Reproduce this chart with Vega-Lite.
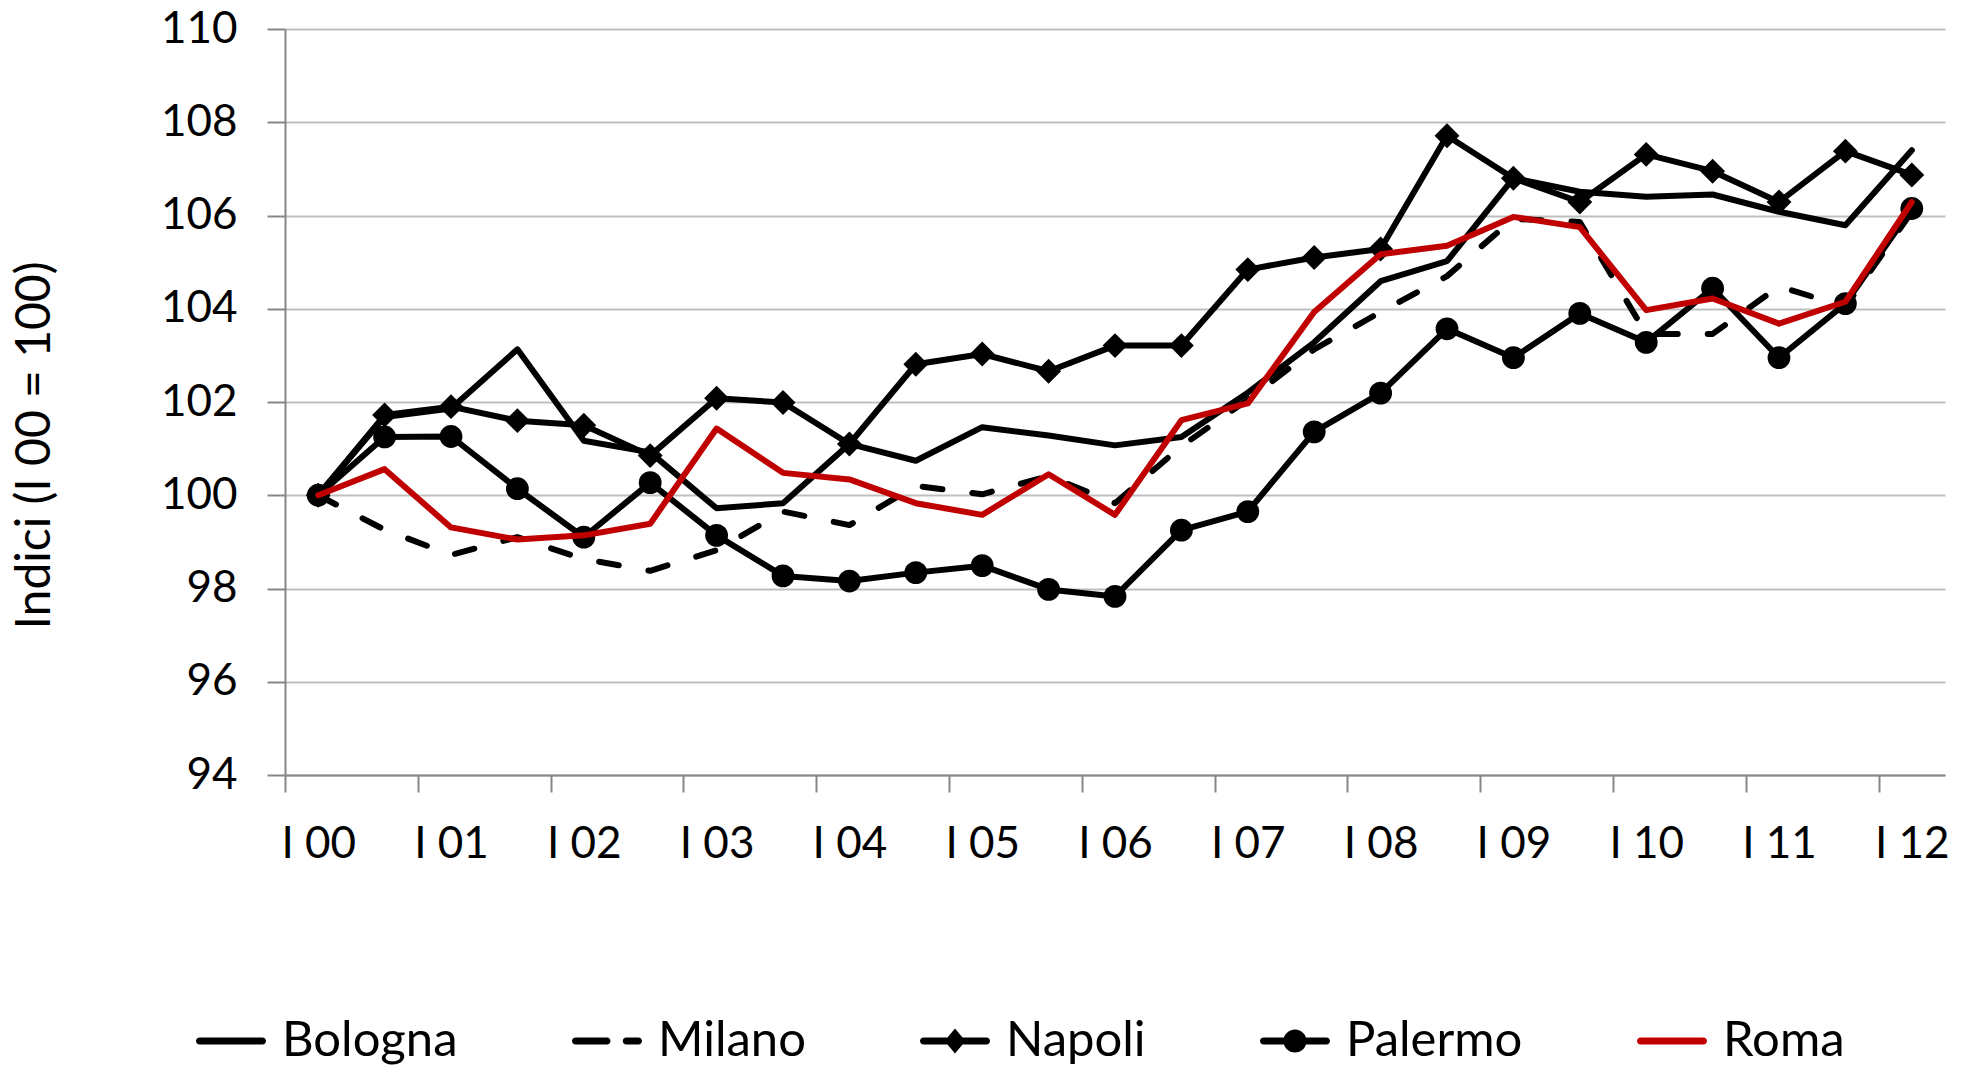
{
  "$schema": "https://vega.github.io/schema/vega-lite/v6.json",
  "width": 1660,
  "height": 746,
  "autosize": {"type": "none"},
  "padding": {"left": 285, "top": 29, "right": 24, "bottom": 294},
  "background": "white",
  "config": {
    "view": {"stroke": null},
    "font": "Lato",
    "axis": {"labelFont": "Lato", "titleFont": "Lato"},
    "legend": {"labelFont": "Lato"}
  },
  "datasets": {
    "rows": [
      {"city": "Bologna", "t": 0, "v": 100}, {"city": "Bologna", "t": 1, "v": 101.68}, {"city": "Bologna", "t": 2, "v": 101.86}, {"city": "Bologna", "t": 3, "v": 103.13}, {"city": "Bologna", "t": 4, "v": 101.17}, {"city": "Bologna", "t": 5, "v": 100.92}, {"city": "Bologna", "t": 6, "v": 99.72}, {"city": "Bologna", "t": 7, "v": 99.83}, {"city": "Bologna", "t": 8, "v": 101.1}, {"city": "Bologna", "t": 9, "v": 100.74}, {"city": "Bologna", "t": 10, "v": 101.46}, {"city": "Bologna", "t": 11, "v": 101.28}, {"city": "Bologna", "t": 12, "v": 101.07}, {"city": "Bologna", "t": 13, "v": 101.25}, {"city": "Bologna", "t": 14, "v": 102.2}, {"city": "Bologna", "t": 15, "v": 103.28}, {"city": "Bologna", "t": 16, "v": 104.59}, {"city": "Bologna", "t": 17, "v": 105.02}, {"city": "Bologna", "t": 18, "v": 106.8}, {"city": "Bologna", "t": 19, "v": 106.51}, {"city": "Bologna", "t": 20, "v": 106.4}, {"city": "Bologna", "t": 21, "v": 106.45}, {"city": "Bologna", "t": 22, "v": 106.08}, {"city": "Bologna", "t": 23, "v": 105.79}, {"city": "Bologna", "t": 24, "v": 107.4},
      {"city": "Milano", "t": 0, "v": 100}, {"city": "Milano", "t": 1, "v": 99.26}, {"city": "Milano", "t": 2, "v": 98.72}, {"city": "Milano", "t": 3, "v": 99.1}, {"city": "Milano", "t": 4, "v": 98.63}, {"city": "Milano", "t": 5, "v": 98.38}, {"city": "Milano", "t": 6, "v": 98.82}, {"city": "Milano", "t": 7, "v": 99.65}, {"city": "Milano", "t": 8, "v": 99.36}, {"city": "Milano", "t": 9, "v": 100.2}, {"city": "Milano", "t": 10, "v": 100.02}, {"city": "Milano", "t": 11, "v": 100.41}, {"city": "Milano", "t": 12, "v": 99.83}, {"city": "Milano", "t": 13, "v": 101.05}, {"city": "Milano", "t": 14, "v": 102.05}, {"city": "Milano", "t": 15, "v": 103.13}, {"city": "Milano", "t": 16, "v": 103.93}, {"city": "Milano", "t": 17, "v": 104.7}, {"city": "Milano", "t": 18, "v": 105.93}, {"city": "Milano", "t": 19, "v": 105.86}, {"city": "Milano", "t": 20, "v": 103.46}, {"city": "Milano", "t": 21, "v": 103.46}, {"city": "Milano", "t": 22, "v": 104.48}, {"city": "Milano", "t": 23, "v": 104.04}, {"city": "Milano", "t": 24, "v": 106.08},
      {"city": "Napoli", "t": 0, "v": 100}, {"city": "Napoli", "t": 1, "v": 101.72}, {"city": "Napoli", "t": 2, "v": 101.9}, {"city": "Napoli", "t": 3, "v": 101.6}, {"city": "Napoli", "t": 4, "v": 101.5}, {"city": "Napoli", "t": 5, "v": 100.85}, {"city": "Napoli", "t": 6, "v": 102.08}, {"city": "Napoli", "t": 7, "v": 101.99}, {"city": "Napoli", "t": 8, "v": 101.1}, {"city": "Napoli", "t": 9, "v": 102.81}, {"city": "Napoli", "t": 10, "v": 103.03}, {"city": "Napoli", "t": 11, "v": 102.66}, {"city": "Napoli", "t": 12, "v": 103.21}, {"city": "Napoli", "t": 13, "v": 103.21}, {"city": "Napoli", "t": 14, "v": 104.84}, {"city": "Napoli", "t": 15, "v": 105.1}, {"city": "Napoli", "t": 16, "v": 105.28}, {"city": "Napoli", "t": 17, "v": 107.71}, {"city": "Napoli", "t": 18, "v": 106.8}, {"city": "Napoli", "t": 19, "v": 106.29}, {"city": "Napoli", "t": 20, "v": 107.31}, {"city": "Napoli", "t": 21, "v": 106.95}, {"city": "Napoli", "t": 22, "v": 106.29}, {"city": "Napoli", "t": 23, "v": 107.38}, {"city": "Napoli", "t": 24, "v": 106.87},
      {"city": "Palermo", "t": 0, "v": 100}, {"city": "Palermo", "t": 1, "v": 101.25}, {"city": "Palermo", "t": 2, "v": 101.26}, {"city": "Palermo", "t": 3, "v": 100.14}, {"city": "Palermo", "t": 4, "v": 99.1}, {"city": "Palermo", "t": 5, "v": 100.27}, {"city": "Palermo", "t": 6, "v": 99.14}, {"city": "Palermo", "t": 7, "v": 98.27}, {"city": "Palermo", "t": 8, "v": 98.16}, {"city": "Palermo", "t": 9, "v": 98.34}, {"city": "Palermo", "t": 10, "v": 98.49}, {"city": "Palermo", "t": 11, "v": 97.98}, {"city": "Palermo", "t": 12, "v": 97.83}, {"city": "Palermo", "t": 13, "v": 99.25}, {"city": "Palermo", "t": 14, "v": 99.65}, {"city": "Palermo", "t": 15, "v": 101.36}, {"city": "Palermo", "t": 16, "v": 102.19}, {"city": "Palermo", "t": 17, "v": 103.57}, {"city": "Palermo", "t": 18, "v": 102.95}, {"city": "Palermo", "t": 19, "v": 103.9}, {"city": "Palermo", "t": 20, "v": 103.28}, {"city": "Palermo", "t": 21, "v": 104.44}, {"city": "Palermo", "t": 22, "v": 102.95}, {"city": "Palermo", "t": 23, "v": 104.11}, {"city": "Palermo", "t": 24, "v": 106.15},
      {"city": "Roma", "t": 0, "v": 100}, {"city": "Roma", "t": 1, "v": 100.56}, {"city": "Roma", "t": 2, "v": 99.31}, {"city": "Roma", "t": 3, "v": 99.05}, {"city": "Roma", "t": 4, "v": 99.14}, {"city": "Roma", "t": 5, "v": 99.39}, {"city": "Roma", "t": 6, "v": 101.43}, {"city": "Roma", "t": 7, "v": 100.48}, {"city": "Roma", "t": 8, "v": 100.34}, {"city": "Roma", "t": 9, "v": 99.83}, {"city": "Roma", "t": 10, "v": 99.58}, {"city": "Roma", "t": 11, "v": 100.45}, {"city": "Roma", "t": 12, "v": 99.58}, {"city": "Roma", "t": 13, "v": 101.61}, {"city": "Roma", "t": 14, "v": 101.97}, {"city": "Roma", "t": 15, "v": 103.93}, {"city": "Roma", "t": 16, "v": 105.17}, {"city": "Roma", "t": 17, "v": 105.35}, {"city": "Roma", "t": 18, "v": 105.97}, {"city": "Roma", "t": 19, "v": 105.75}, {"city": "Roma", "t": 20, "v": 103.97}, {"city": "Roma", "t": 21, "v": 104.22}, {"city": "Roma", "t": 22, "v": 103.68}, {"city": "Roma", "t": 23, "v": 104.15}, {"city": "Roma", "t": 24, "v": 106.29}
    ]
  },
  "data": {"name": "rows"},
  "encoding": {
    "x": {
      "field": "t",
      "type": "quantitative",
      "scale": {"domain": [-0.5, 24.5], "nice": false, "zero": false},
      "axis": {
        "title": null,
        "values": [-0.5, 0, 1.5, 2, 3.5, 4, 5.5, 6, 7.5, 8, 9.5, 10, 11.5, 12, 13.5, 14, 15.5, 16, 17.5, 18, 19.5, 20, 21.5, 22, 23.5, 24],
        "labelExpr": "datum.value % 2 == 0 ? 'I ' + (datum.value < 20 ? '0' : '') + (datum.value / 2) : ''",
        "grid": false,
        "tickSize": 17,
        "tickWidth": 2,
        "tickColor": "#868686",
        "tickOpacity": {"condition": {"test": "datum.value % 2 == 0", "value": 0}, "value": 1},
        "domainColor": "#868686",
        "domainWidth": 2,
        "labelFontSize": 44,
        "labelColor": "#000000",
        "labelPadding": 30,
        "labelOverlap": false,
        "labelFlush": false,
        "labelBound": false
      }
    },
    "y": {
      "field": "v",
      "type": "quantitative",
      "scale": {"domain": [94, 110], "nice": false, "zero": false},
      "axis": {
        "title": "Indici (I 00 = 100)",
        "values": [94, 96, 98, 100, 102, 104, 106, 108, 110],
        "grid": true,
        "gridColor": "#BFBFBF",
        "gridWidth": 2,
        "tickSize": 18,
        "tickWidth": 2,
        "tickColor": "#868686",
        "domainColor": "#868686",
        "domainWidth": 2,
        "labelFontSize": 44,
        "labelColor": "#000000",
        "labelPadding": 30,
        "labelOverlap": false,
        "titleFontSize": 48,
        "titleFontWeight": "normal",
        "titleColor": "#000000",
        "titleX": -250,
        "titleY": 416,
        "titleAngle": 270,
        "titleBaseline": "middle",
        "titleAlign": "center"
      }
    }
  },
  "layer": [
    {
      "transform": [{"filter": "datum.city == 'Bologna' || datum.city == 'Napoli' || datum.city == 'Palermo'"}],
      "mark": {"type": "line", "strokeWidth": 6, "strokeCap": "round", "strokeJoin": "round", "color": "#000000"},
      "encoding": {"detail": {"field": "city", "type": "nominal"}}
    },
    {
      "transform": [{"filter": "datum.city == 'Milano'"}],
      "mark": {"type": "line", "strokeWidth": 6, "strokeCap": "round", "strokeJoin": "round", "color": "#000000", "strokeDash": [20, 30]},
      "encoding": {}
    },
    {
      "transform": [{"filter": "datum.city == 'Napoli'"}],
      "mark": {"type": "point", "shape": "diamond", "filled": true, "size": 620, "color": "#000000", "opacity": 1},
      "encoding": {}
    },
    {
      "transform": [{"filter": "datum.city == 'Palermo'"}],
      "mark": {"type": "point", "shape": "circle", "filled": true, "size": 520, "color": "#000000", "opacity": 1},
      "encoding": {}
    },
    {
      "transform": [{"filter": "datum.city == 'Roma'"}],
      "mark": {"type": "line", "strokeWidth": 6, "strokeCap": "round", "strokeJoin": "round", "color": "#C00000"},
      "encoding": {}
    },
    {
      "transform": [{"filter": "false"}],
      "mark": {"type": "point", "filled": true, "opacity": 1},
      "encoding": {
        "color": {
          "field": "city",
          "type": "nominal",
          "scale": {"domain": ["Bologna", "Milano", "Napoli", "Palermo", "Roma"], "range": ["#000000", "#000000", "#000000", "#000000", "#C00000"]},
          "legend": {"title": null, "orient": "none", "legendX": -89, "legendY": 977, "direction": "horizontal", "symbolSize": 4900, "symbolStrokeWidth": 0, "labelFontSize": 49, "labelColor": "#000000", "labelOffset": 16, "labelLimit": 500, "columnPadding": 114, "padding": 0}
        },
        "shape": {
          "field": "city",
          "type": "nominal",
          "scale": {
            "domain": ["Bologna", "Milano", "Napoli", "Palermo", "Roma"],
            "range": [
              "M-0.9,-0.1H0.9A0.1,0.1,0,0,1,0.9,0.1H-0.9A0.1,0.1,0,0,1,-0.9,-0.1Z",
              "M-0.9,-0.1H0.0A0.1,0.1,0,0,1,0.0,0.1H-0.9A0.1,0.1,0,0,1,-0.9,-0.1Z M0.55,-0.1H0.9A0.1,0.1,0,0,1,0.9,0.1H0.55A0.1,0.1,0,0,1,0.55,-0.1Z",
              "M-0.9,-0.1H0.9A0.1,0.1,0,0,1,0.9,0.1H-0.9A0.1,0.1,0,0,1,-0.9,-0.1Z M0,-0.36L0.3,0L0,0.36L-0.3,0Z",
              "M-0.9,-0.1H0.9A0.1,0.1,0,0,1,0.9,0.1H-0.9A0.1,0.1,0,0,1,-0.9,-0.1Z M-0.33,0A0.33,0.33,0,1,1,0.33,0A0.33,0.33,0,1,1,-0.33,0Z",
              "M-0.9,-0.1H0.9A0.1,0.1,0,0,1,0.9,0.1H-0.9A0.1,0.1,0,0,1,-0.9,-0.1Z"
            ]
          },
          "legend": {"title": null, "orient": "none", "legendX": -89, "legendY": 977, "direction": "horizontal", "symbolSize": 4900, "symbolStrokeWidth": 0, "labelFontSize": 49, "labelColor": "#000000", "labelOffset": 16, "labelLimit": 500, "columnPadding": 114, "padding": 0}
        }
      }
    }
  ]
}
